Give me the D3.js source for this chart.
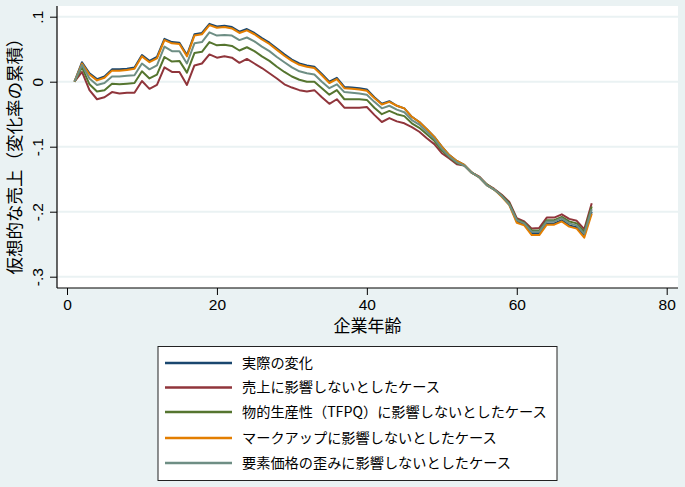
<!DOCTYPE html>
<html><head><meta charset="utf-8">
<script src="https://cdn.jsdelivr.net/npm/d3@7"></script>
<style>
html,body{margin:0;padding:0;background:#eaf2f3;}
svg{display:block;font-family:"Liberation Sans","Noto Sans CJK JP",sans-serif;}
</style></head>
<body><svg id="c" width="685" height="487"></svg>
<script>
const ages = d3.range(1, 71);
const actual = [0,0.030,0.013,0.004,0.008,0.019,0.019,0.020,0.022,0.041,0.032,0.038,0.066,0.061,0.060,0.041,0.073,0.075,0.089,0.085,0.086,0.084,0.077,0.081,0.075,0.067,0.060,0.051,0.042,0.034,0.028,0.025,0.023,0.012,0.000,0.006,-0.008,-0.009,-0.010,-0.012,-0.024,-0.034,-0.030,-0.037,-0.041,-0.054,-0.062,-0.073,-0.085,-0.100,-0.113,-0.122,-0.128,-0.140,-0.147,-0.159,-0.166,-0.176,-0.188,-0.215,-0.219,-0.233,-0.233,-0.218,-0.218,-0.213,-0.221,-0.224,-0.236,-0.200];
const noSales = [0,0.015,-0.013,-0.027,-0.024,-0.016,-0.018,-0.017,-0.017,0.001,-0.011,-0.005,0.022,0.015,0.015,-0.005,0.025,0.028,0.042,0.037,0.039,0.037,0.029,0.035,0.028,0.021,0.013,0.005,-0.004,-0.009,-0.013,-0.015,-0.013,-0.024,-0.034,-0.027,-0.040,-0.040,-0.040,-0.039,-0.051,-0.062,-0.056,-0.061,-0.064,-0.070,-0.077,-0.087,-0.096,-0.110,-0.118,-0.127,-0.129,-0.140,-0.146,-0.158,-0.165,-0.174,-0.185,-0.210,-0.215,-0.226,-0.225,-0.209,-0.209,-0.204,-0.211,-0.214,-0.227,-0.187];
const noTFPQ = [0,0.022,-0.004,-0.015,-0.013,-0.003,-0.004,-0.003,-0.002,0.016,0.005,0.011,0.038,0.031,0.032,0.014,0.044,0.046,0.061,0.056,0.057,0.055,0.048,0.053,0.047,0.039,0.032,0.023,0.015,0.008,0.003,0.000,0.000,-0.010,-0.020,-0.013,-0.027,-0.027,-0.027,-0.028,-0.040,-0.050,-0.045,-0.050,-0.053,-0.064,-0.071,-0.081,-0.091,-0.106,-0.116,-0.125,-0.129,-0.140,-0.147,-0.158,-0.166,-0.175,-0.187,-0.212,-0.217,-0.229,-0.229,-0.213,-0.213,-0.208,-0.215,-0.218,-0.231,-0.192];
const noMarkup = [0,0.028,0.011,0.002,0.006,0.017,0.017,0.018,0.020,0.039,0.030,0.036,0.064,0.059,0.058,0.039,0.071,0.073,0.087,0.083,0.084,0.082,0.075,0.079,0.073,0.065,0.058,0.049,0.040,0.032,0.026,0.023,0.021,0.010,-0.002,0.004,-0.010,-0.011,-0.012,-0.014,-0.025,-0.035,-0.031,-0.037,-0.041,-0.054,-0.062,-0.073,-0.085,-0.100,-0.113,-0.122,-0.128,-0.140,-0.147,-0.159,-0.166,-0.177,-0.190,-0.217,-0.221,-0.236,-0.236,-0.220,-0.220,-0.215,-0.223,-0.226,-0.240,-0.203];
const noDistortion = [0,0.026,0.005,-0.005,-0.002,0.008,0.008,0.009,0.010,0.028,0.019,0.025,0.054,0.047,0.047,0.028,0.059,0.061,0.076,0.071,0.072,0.071,0.064,0.068,0.062,0.054,0.047,0.038,0.030,0.022,0.016,0.013,0.011,0.000,-0.010,-0.004,-0.016,-0.017,-0.018,-0.020,-0.031,-0.041,-0.037,-0.043,-0.047,-0.059,-0.066,-0.077,-0.088,-0.103,-0.115,-0.124,-0.129,-0.140,-0.147,-0.159,-0.166,-0.176,-0.189,-0.213,-0.218,-0.231,-0.231,-0.215,-0.215,-0.210,-0.218,-0.221,-0.234,-0.196];

const seriesNames = ["実際の変化","売上に影響しないとしたケース","物的生産性（TFPQ）に影響しないとしたケース","マークアップに影響しないとしたケース","要素価格の歪みに影響しないとしたケース"];
const seriesColors = ["#1a476f","#90353b","#55752f","#e37e00","#6e8e84"];
const seriesValues = [actual, noSales, noTFPQ, noMarkup, noDistortion];
const xTicks = [0,20,40,60,80];
const yTicks = [0.1,0,-0.1,-0.2,-0.3];
const yTickLabels = [".1","0","-.1","-.2","-.3"];
const xTitle = "企業年齢";
const yTitle = "仮想的な売上（変化率の累積）";

const svg = d3.select("#c");
const plot = {left:57, right:678, top:6, bottom:288};
const x = d3.scaleLinear().domain([0,80]).range([67,666.7]);
const y = d3.scaleLinear().domain([-0.3,0.1]).range([276.7,16.7]);

svg.append("rect").attr("x",0).attr("y",0).attr("width",685).attr("height",487).attr("fill","#eaf2f3");
svg.append("rect").attr("x",plot.left).attr("y",plot.top).attr("width",plot.right-plot.left).attr("height",plot.bottom-plot.top).attr("fill","#ffffff");

// gridlines
svg.append("g").selectAll("line").data(yTicks).join("line")
  .attr("x1",plot.left).attr("x2",plot.right)
  .attr("y1",d=>y(d)).attr("y2",d=>y(d))
  .attr("stroke","#eaf2f3").attr("stroke-width",2);

// lines
const line = d3.line().x((d,i)=>x(ages[i])).y(d=>y(d));
svg.append("g").selectAll("path").data(seriesValues).join("path")
  .attr("d",d=>line(d)).attr("fill","none")
  .attr("stroke",(d,i)=>seriesColors[i]).attr("stroke-width",2)
  .attr("stroke-linejoin","round");

// axes
const xAxis = d3.axisBottom(x).tickValues(xTicks).tickSize(7).tickPadding(4).tickFormat(d3.format("d"));
const gx = svg.append("g").attr("transform",`translate(0,${plot.bottom})`).call(xAxis);
gx.select(".domain").remove();
gx.append("line").attr("x1",plot.left).attr("x2",plot.right).attr("y1",0).attr("y2",0).attr("stroke","#000").attr("stroke-width",1.2);
gx.selectAll(".tick line").attr("stroke","#000");
gx.selectAll(".tick text").attr("font-size",15.5).attr("fill","#000").attr("font-family","Liberation Sans, sans-serif");

const yAxis = d3.axisLeft(y).tickValues(yTicks).tickSize(7).tickFormat((d,i)=>yTickLabels[i]);
const gy = svg.append("g").attr("transform",`translate(${plot.left},0)`).call(yAxis);
gy.select(".domain").remove();
gy.append("line").attr("x1",0).attr("x2",0).attr("y1",plot.top).attr("y2",plot.bottom).attr("stroke","#000").attr("stroke-width",1.2);
gy.selectAll(".tick line").attr("stroke","#000");
gy.selectAll(".tick text")
  .attr("x",null).attr("dy",null)
  .attr("transform","translate(-14,0) rotate(-90)")
  .attr("text-anchor","middle").attr("font-size",15.5).attr("fill","#000")
  .attr("font-family","Liberation Sans, sans-serif");

// titles
svg.append("text").attr("x",(plot.left+plot.right)/2).attr("y",332)
  .attr("text-anchor","middle").attr("font-size",17).attr("fill","#000")
  .attr("font-family","Noto Sans CJK JP, sans-serif").text(xTitle);
svg.append("text").attr("transform",`translate(21,${(plot.top+plot.bottom)/2 + 5}) rotate(-90)`)
  .attr("text-anchor","middle").attr("font-size",17.5).attr("fill","#000")
  .attr("font-family","Noto Sans CJK JP, sans-serif").text(yTitle);

// legend
const lg = svg.append("g");
lg.append("rect").attr("x",158).attr("y",346.5).attr("width",399).attr("height",134)
  .attr("fill","#fff").attr("stroke","#222").attr("stroke-width",1);
const rowY = [363,387.5,412,438,463];
const items = lg.selectAll("g.item").data(seriesNames).join("g").attr("class","item")
  .attr("transform",(d,i)=>`translate(0,${rowY[i]})`);
items.append("line").attr("x1",165).attr("x2",232).attr("y1",0).attr("y2",0)
  .attr("stroke",(d,i)=>seriesColors[i]).attr("stroke-width",2.5);
items.append("text").attr("x",242).attr("y",0).attr("dy","0.35em")
  .attr("font-size",14.2).attr("fill","#000")
  .attr("font-family","Noto Sans CJK JP, sans-serif").text(d=>d);
</script></body></html>
